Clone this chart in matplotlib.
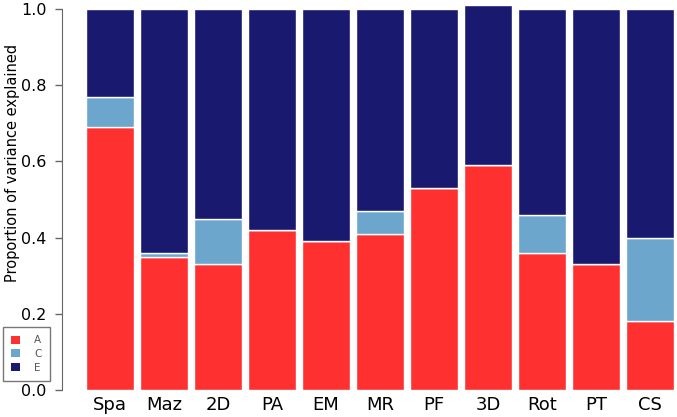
import matplotlib
matplotlib.use("Agg")
from matplotlib import pyplot as plt
from matplotlib.patches import Patch
import numpy as np

categories = ["Spa", "Maz", "2D", "PA", "EM", "MR", "PF", "3D", "Rot", "PT", "CS"]
prop_a = [0.69, 0.35, 0.33, 0.42, 0.39, 0.41, 0.53, 0.59, 0.36, 0.33, 0.18]
prop_c = [0.08, 0.01, 0.12, 0.00, 0.00, 0.06, 0.00, 0.00, 0.10, 0.00, 0.22]
prop_e = [0.23, 0.64, 0.55, 0.58, 0.61, 0.53, 0.47, 0.42, 0.54, 0.67, 0.60]

col_a = "#FF3030"
col_c = "#6CA6CD"
col_e = "#191970"

fig = plt.figure(figsize=(6.77, 4.17), dpi=100)
ax = fig.add_axes([62 / 677, 27 / 417, 613 / 677, 388.6 / 417])

x = np.arange(len(categories))
a = np.array(prop_a)
c = np.array(prop_c)
e = np.array(prop_e)
kw = dict(width=0.89, edgecolor="white", linewidth=1.0)
ax.bar(x, a, color=col_a, **kw)
ax.bar(x, c, bottom=a, color=col_c, **kw)
ax.bar(x, e, bottom=a + c, color=col_e, **kw)

ax.set_xlim(-0.89, 10.46)
ax.set_ylim(0, 1.02)
for s in ["top", "right", "bottom"]:
    ax.spines[s].set_visible(False)
ax.spines["left"].set_bounds(0, 1.0)
ax.spines["left"].set_color("#666666")
ax.set_yticks([0, 0.2, 0.4, 0.6, 0.8, 1.0])
ax.set_yticklabels(["0.0", "0.2", "0.4", "0.6", "0.8", "1.0"])
ax.set_xticks(x)
ax.set_xticklabels(categories)
ax.tick_params(axis="x", length=0, labelsize=13, pad=4)
ax.tick_params(axis="y", length=5, width=1, labelsize=11.5, color="#666666", pad=6)
ax.set_ylabel("Proportion of variance explained", fontsize=10.5)
ax.yaxis.set_label_coords(-0.068, 0.584)

handles = [Patch(facecolor=col_a, label="A"),
           Patch(facecolor=col_c, label="C"),
           Patch(facecolor=col_e, label="E")]
leg = fig.legend(handles=handles, loc="upper left", bbox_to_anchor=(3 / 677, 1 - 327 / 417),
                 fontsize=7.5, frameon=True, fancybox=False, handlelength=0.8,
                 handleheight=0.8, handletextpad=1.4, labelspacing=0.35, borderpad=0.8,
                 borderaxespad=0)
leg.get_frame().set_edgecolor("#555555")
for t in leg.get_texts():
    t.set_color("#555555")

fig.savefig("out.png", dpi=100)
